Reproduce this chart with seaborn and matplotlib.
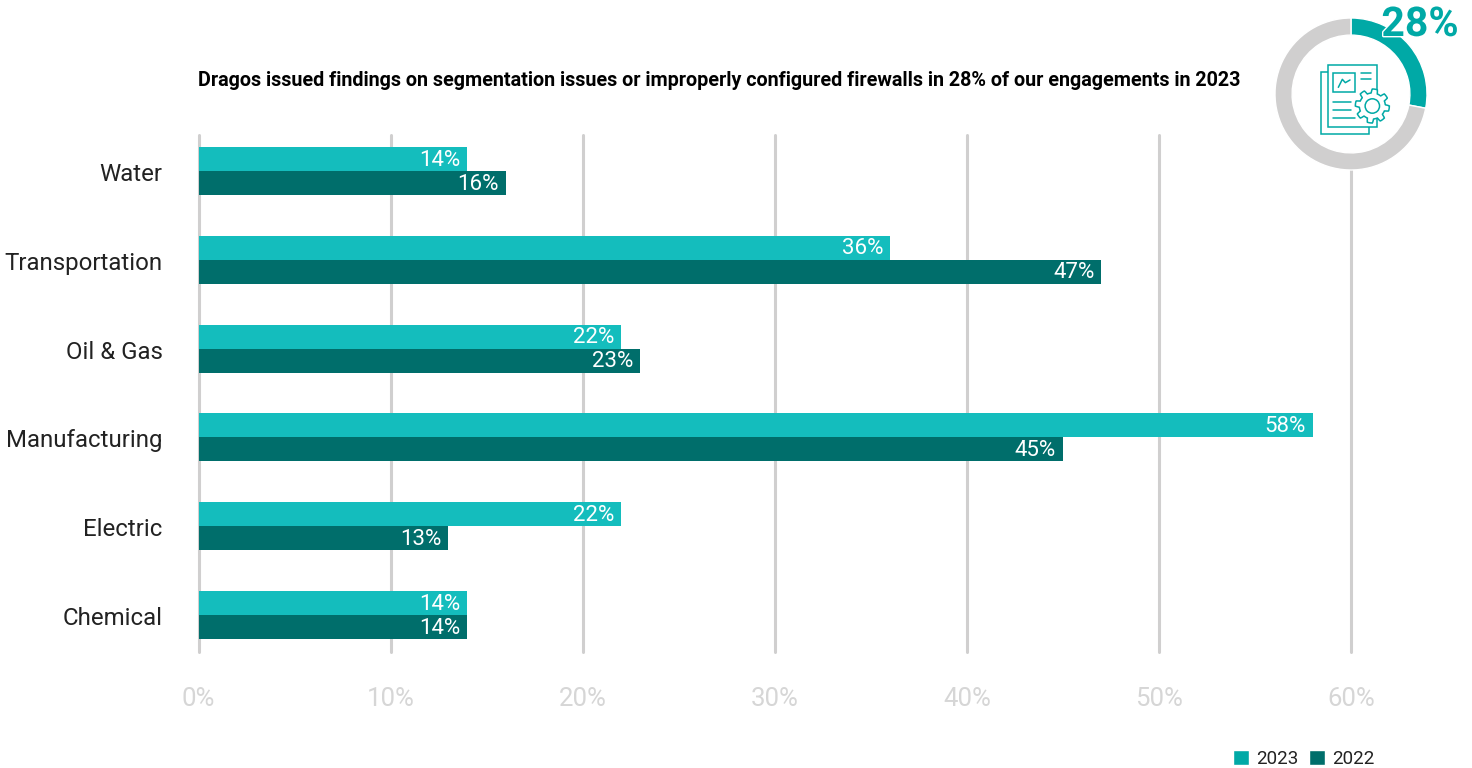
import numpy as np
import pandas as pd
import matplotlib
matplotlib.use('Agg')
import matplotlib.pyplot as plt
import matplotlib.patheffects as pe
from matplotlib.patches import Circle, Patch, Rectangle
from matplotlib.transforms import ScaledTranslation
import seaborn as sns

# Datos
sectores = ['Water', 'Transportation', 'Oil & Gas', 'Manufacturing', 'Electric', 'Chemical']
valores_2023 = [14, 36, 22, 58, 22, 14]
valores_2022 = [16, 47, 23, 45, 13, 14]
anios = ['2023', '2022']
ticks_x = [0, 10, 20, 30, 40, 50, 60]
donut_valores = [28, 72]

titulo = ('Dragos issued findings on segmentation issues or improperly '
          'configured firewalls in 28% of our engagements in 2023')

TEAL_CLARO = '#14BDBD'
TEAL_OSCURO = '#006E6B'
TEAL = '#00A9A6'
GRIS = '#D0CFCF'
W, H = 1472, 768

sns.set_theme(style='white')
plt.rcParams['font.family'] = ['Roboto', 'DejaVu Sans']

df = pd.DataFrame({
    'sector': sectores * 2,
    'valor': valores_2023 + valores_2022,
    'anio': [anios[0]] * len(sectores) + [anios[1]] * len(sectores),
})

fig = plt.figure(figsize=(W / 100, H / 100), dpi=100, facecolor='white')

# Eje principal, colocado en pixeles
ax = fig.add_axes([198.5 / W, 1 - 652 / H, (1351 - 198.5) / W, (652 - 135) / H])
sns.barplot(data=df, y='sector', x='valor', hue='anio', order=sectores, hue_order=anios,
            palette=[TEAL_CLARO, TEAL_OSCURO], width=0.54, gap=0, orient='y', saturation=1,
            linewidth=0, legend=False, ax=ax, zorder=3)
ax.set_xlim(0, 60)
ax.set_ylim(5.417, -0.405)
ax.set_xticks(ticks_x)
ax.set_xticklabels([f'{t}%' for t in ticks_x], fontsize=18.5, color='#D6D6D6')
ax.set_xlabel('')
ax.set_ylabel('')
ax.tick_params(axis='y', length=0, pad=26, labelsize=17.3, labelcolor='#222222')
ax.tick_params(axis='x', length=0, pad=25)
ax.grid(axis='x', color=GRIS, linewidth=2.2)
ax.grid(axis='y', visible=False)
for linea_g in ax.get_xgridlines():
    linea_g.set_clip_on(False)
ax.set_axisbelow(True)
sns.despine(ax=ax, left=True, bottom=True)

# Bajar un poco los nombres de sector
desplazamiento = ScaledTranslation(0, -0.8 / 72, fig.dpi_scale_trans)
for etiqueta in ax.get_yticklabels():
    etiqueta.set_transform(etiqueta.get_transform() + desplazamiento)

# Etiquetas dentro de las barras
for cont in ax.containers:
    for barra in cont:
        ax.annotate(f'{barra.get_width():.0f}%',
                    (barra.get_width(), barra.get_y() + barra.get_height() / 2),
                    xytext=(-5, -0.8), textcoords='offset points', ha='right', va='center',
                    color='white', fontsize=16, zorder=4)

fig.text(198 / W, 1 - 80 / H, titulo, fontsize=14.2, fontweight='bold', color='black',
         va='center', ha='left')

# Donut
ax_d = fig.add_axes([(1351 - 76) / W, 1 - 170 / H, 152 / W, 152 / H])
ax_d.pie(donut_valores, colors=[TEAL, GRIS], startangle=90, counterclock=False, radius=1,
         wedgeprops={'width': 0.225})
ax_d.add_patch(Circle((0, 0), 0.78, color='white', zorder=0))
ax_d.set_xlim(-1, 1)
ax_d.set_ylim(-1, 1)

# Capa en pixeles para el icono
capa = fig.add_axes([0, 0, 1, 1], facecolor='none')
capa.set_xlim(0, W)
capa.set_ylim(H, 0)
capa.axis('off')

def zx(x):
    return 1260 + x / 3

def zy(y):
    return y / 3

def caja(x0, y0, x1, y1, fc='none'):
    capa.add_patch(Rectangle((zx(x0), zy(y0)), (x1 - x0) / 3, (y1 - y0) / 3,
                             fc=fc, ec=TEAL, lw=1.1))

def linea(xs, ys):
    capa.plot([zx(x) for x in xs], [zy(y) for y in ys], color=TEAL, lw=1.1)

caja(182, 215, 328, 403, fc='white')
caja(204, 195, 350, 382, fc='white')
caja(220, 218, 286, 277)
linea([303, 332], [218, 218])
linea([303, 332], [238, 238])
linea([220, 272], [305, 305])
linea([220, 272], [331, 331])
linea([220, 285], [355, 355])
linea([235, 247, 256, 270], [262, 238, 248, 240])

# Engranaje
ang = np.linspace(0, 2 * np.pi, 289)
radio = 15.0 + 2.0 * np.clip(3 * np.sin(8 * ang + 0.4), -1, 1)
gx, gy = zx(337) + radio * np.cos(ang), zy(318) + radio * np.sin(ang)
capa.fill(gx, gy, fc='white', ec=TEAL, lw=1.1, zorder=3)
capa.add_patch(Circle((zx(337), zy(318)), 7.2, fc='white', ec=TEAL, lw=1.1, zorder=4))

capa.text(1420, 25, '28%', fontsize=29.5, fontweight='bold', color=TEAL, ha='center', va='center',
          path_effects=[pe.withStroke(linewidth=2, foreground='white')], zorder=5)

# Leyenda
manejadores = [Patch(facecolor=TEAL, label=anios[0]), Patch(facecolor=TEAL_OSCURO, label=anios[1])]
fig.legend(handles=manejadores, loc='lower right', bbox_to_anchor=(1378 / W, -4 / H), ncol=2,
           frameon=False, fontsize=13.5, handlelength=0.85, handleheight=0.85,
           handletextpad=0.35, columnspacing=0.6, borderpad=0, borderaxespad=0.2,
           labelcolor='#222222')

fig.savefig('out.png', dpi=100)
